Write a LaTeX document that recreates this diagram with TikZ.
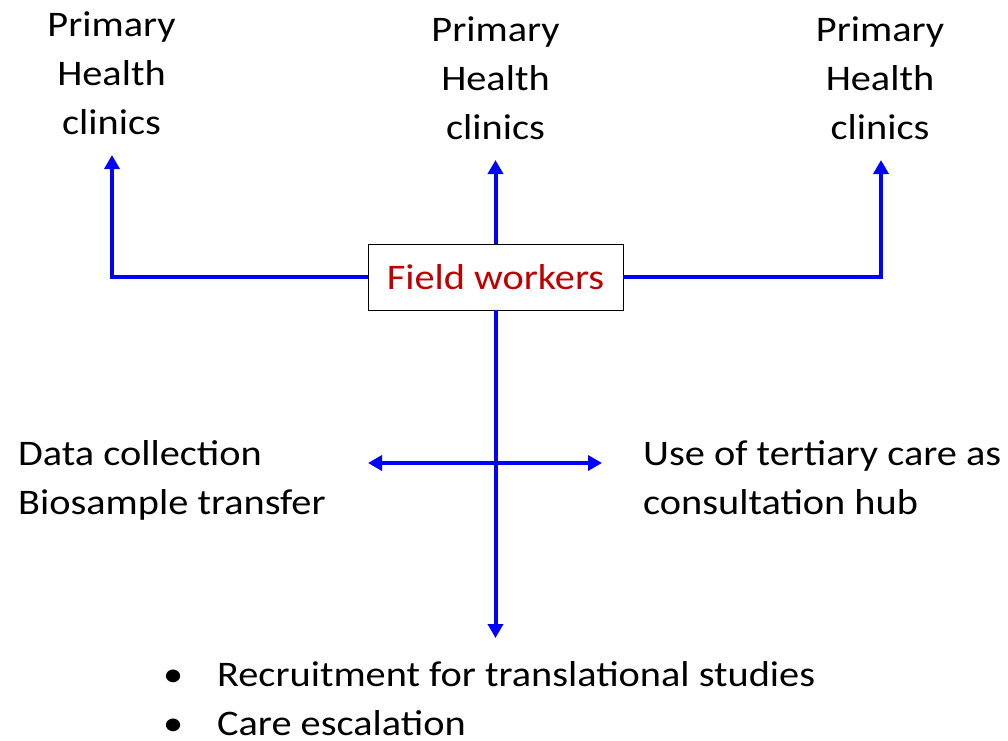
\documentclass[tikz,border=0pt]{standalone}
\usepackage{fontspec}
\setmainfont{Carlito}[FakeStretch=1.12]
\usepackage{xcolor}
\usetikzlibrary{arrows.meta,positioning}
\definecolor{fwred}{RGB}{192,0,0}
\definecolor{linkblue}{RGB}{0,0,255}
\tikzset{
  link/.style={line width=4pt, linkblue},
  tip/.style={-{Triangle[length=14pt,width=15pt]}},
  label36/.style={font=\fontsize{36}{49}\selectfont, inner sep=0pt, align=center},
  labelleft/.style={font=\fontsize{36}{49}\selectfont, inner sep=0pt, align=left}
}
\begin{document}
\begin{tikzpicture}[x=1pt,y=-1pt]
                \useasboundingbox (0,0) rectangle (1008,740);

                \coordinate (TL) at (112,155);
                \coordinate (TM) at (495.5,160);
                \coordinate (TR) at (881,160);
                \coordinate (DL) at (368,463);
                \coordinate (DR) at (602,463);
                \coordinate (DB) at (495.5,638);

                \node[label36, anchor=base] (clinicsL) at (111.5,134) {Primary\\Health\\clinics};
                \node[label36, anchor=base] (clinicsM) at (495.5,139) {Primary\\Health\\clinics};
                \node[label36, anchor=base] (clinicsR) at (880,139) {Primary\\Health\\clinics};

                \node[draw, thick, fill=white, minimum width=255pt, minimum height=66pt,
                      font=\fontsize{36}{44}\selectfont, text=fwred] (field) at (495.5,277) {Field workers};

                \draw[link, tip] (field.west) -| (TL);
                \draw[link, tip] (field.east) -| (TR);
                \draw[link, tip] (field.north) -- (TM);
                \draw[link, tip] (field.south) -- (DB);
                \draw[link, {Triangle[length=14pt,width=15pt]}-{Triangle[length=14pt,width=15pt]}] (DL) -- (DR);

                \node[labelleft, anchor=base west] (datacoll) at (18,514) {Data collection\\Biosample transfer};
                \node[labelleft, anchor=base west] (tertiary) at (643,514) {Use of tertiary care as\\consultation hub};
                \node[labelleft, anchor=base west] (studies) at (163,735)
                  {\makebox[54pt][l]{•}Recruitment for translational studies\\\makebox[54pt][l]{•}Care escalation};
             \end{tikzpicture}
\end{document}
